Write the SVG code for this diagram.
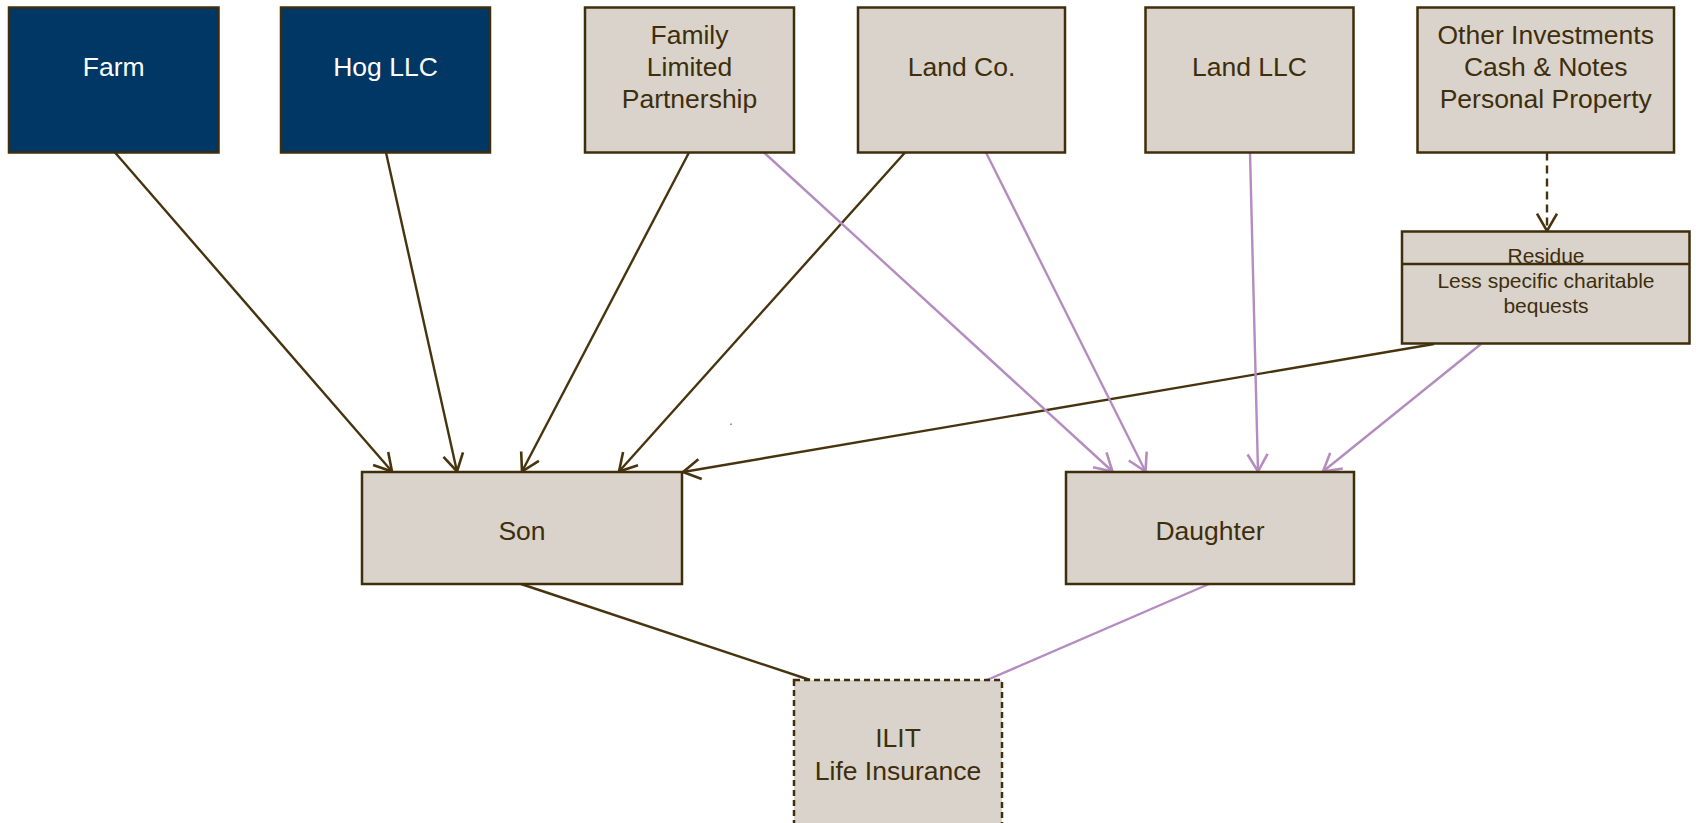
<svg xmlns="http://www.w3.org/2000/svg" width="1696" height="823" viewBox="0 0 1696 823">
<defs>
<style>
.navy{fill:#003764;stroke:#3f2e0b;stroke-width:2.5}
.beige{fill:#d9d3cc;stroke:#3f2e0b;stroke-width:2.5}
.t{font-family:"Liberation Sans",Arial,sans-serif;font-size:26.5px;text-anchor:middle;fill:#3f2e0b}
.w{fill:#ffffff}
.s{font-size:21px}
.br{stroke:#47340f;stroke-width:2.4;fill:none}
.pu{stroke:#b48cc0;stroke-width:2.4;fill:none}
</style>
<marker id="ab" markerUnits="userSpaceOnUse" viewBox="-22 -12 24 24" markerWidth="24" markerHeight="24" refX="0" refY="0" orient="auto" overflow="visible">
<path d="M-17.3,-10 L0,0 L-17.3,10" fill="none" stroke="#47340f" stroke-width="2.6"/>
</marker>
<marker id="ap" markerUnits="userSpaceOnUse" viewBox="-22 -12 24 24" markerWidth="24" markerHeight="24" refX="0" refY="0" orient="auto" overflow="visible">
<path d="M-17.3,-10 L0,0 L-17.3,10" fill="none" stroke="#b48cc0" stroke-width="2.6"/>
</marker>
</defs>
<rect width="1696" height="823" fill="#ffffff"/>
<g id="connectors">
<line class="br" x1="115" y1="152.5" x2="392" y2="471.5" marker-end="url(#ab)"/>
<line class="br" x1="386" y1="152.5" x2="457" y2="471.5" marker-end="url(#ab)"/>
<line class="br" x1="689" y1="152.5" x2="522" y2="471.5" marker-end="url(#ab)"/>
<line class="br" x1="905" y1="152.5" x2="619" y2="471.5" marker-end="url(#ab)"/>
<line class="br" x1="1434" y1="344" x2="683" y2="472" marker-end="url(#ab)"/>
<line class="pu" x1="764" y1="152.5" x2="1112.5" y2="471.5" marker-end="url(#ap)"/>
<line class="pu" x1="986" y1="152.5" x2="1145.5" y2="471.5" marker-end="url(#ap)"/>
<line class="pu" x1="1250" y1="152.5" x2="1258" y2="471.5" marker-end="url(#ap)"/>
<line class="pu" x1="1481" y1="344" x2="1323" y2="471.5" marker-end="url(#ap)"/>
<line class="br" x1="1547" y1="152.5" x2="1547" y2="231" stroke-dasharray="8 5" marker-end="url(#ab)"/>
<line class="br" x1="521" y1="584" x2="810" y2="680"/>
<line class="pu" x1="1209" y1="584" x2="987" y2="680"/>
</g>
<g id="farm">
<rect class="navy" x="9" y="7.5" width="209.5" height="145"/>
<text class="t w" x="113.7" y="76">Farm</text>
</g>
<g id="hog">
<rect class="navy" x="281" y="7.5" width="209" height="145"/>
<text class="t w" x="385.5" y="76">Hog LLC</text>
</g>
<g id="flp">
<rect class="beige" x="585" y="7.5" width="209" height="145"/>
<text class="t" x="689.5" y="44">Family</text>
<text class="t" x="689.5" y="76">Limited</text>
<text class="t" x="689.5" y="108">Partnership</text>
</g>
<g id="landco">
<rect class="beige" x="858" y="7.5" width="207" height="145"/>
<text class="t" x="961.5" y="76">Land Co.</text>
</g>
<g id="landllc">
<rect class="beige" x="1145.5" y="7.5" width="208" height="145"/>
<text class="t" x="1249.5" y="76">Land LLC</text>
</g>
<g id="other">
<rect class="beige" x="1417.5" y="7.5" width="256.5" height="145"/>
<text class="t" x="1545.7" y="44">Other Investments</text>
<text class="t" x="1545.7" y="76">Cash &amp; Notes</text>
<text class="t" x="1545.7" y="108">Personal Property</text>
</g>
<g id="residue">
<rect class="beige" x="1402" y="231.5" width="287.5" height="112"/>
<text class="t s" x="1546" y="263">Residue</text>
<line x1="1402" y1="264" x2="1689.5" y2="264" stroke="#3f2e0b" stroke-width="2.5"/>
<text class="t s" x="1546" y="288">Less specific charitable</text>
<text class="t s" x="1546" y="313">bequests</text>
</g>
<g id="son">
<rect class="beige" x="362" y="472" width="320" height="112"/>
<text class="t" x="522" y="540">Son</text>
</g>
<g id="daughter">
<rect class="beige" x="1066" y="472" width="288" height="112"/>
<text class="t" x="1210" y="540">Daughter</text>
</g>
<g id="ilit">
<rect class="beige" x="794" y="680" width="208" height="160" stroke-dasharray="6 4"/>
<text class="t" x="898" y="747">ILIT</text>
<text class="t" x="898" y="780">Life Insurance</text>
</g>
<rect x="730.5" y="423.5" width="1" height="1.5" fill="#47340f"/>
</svg>
